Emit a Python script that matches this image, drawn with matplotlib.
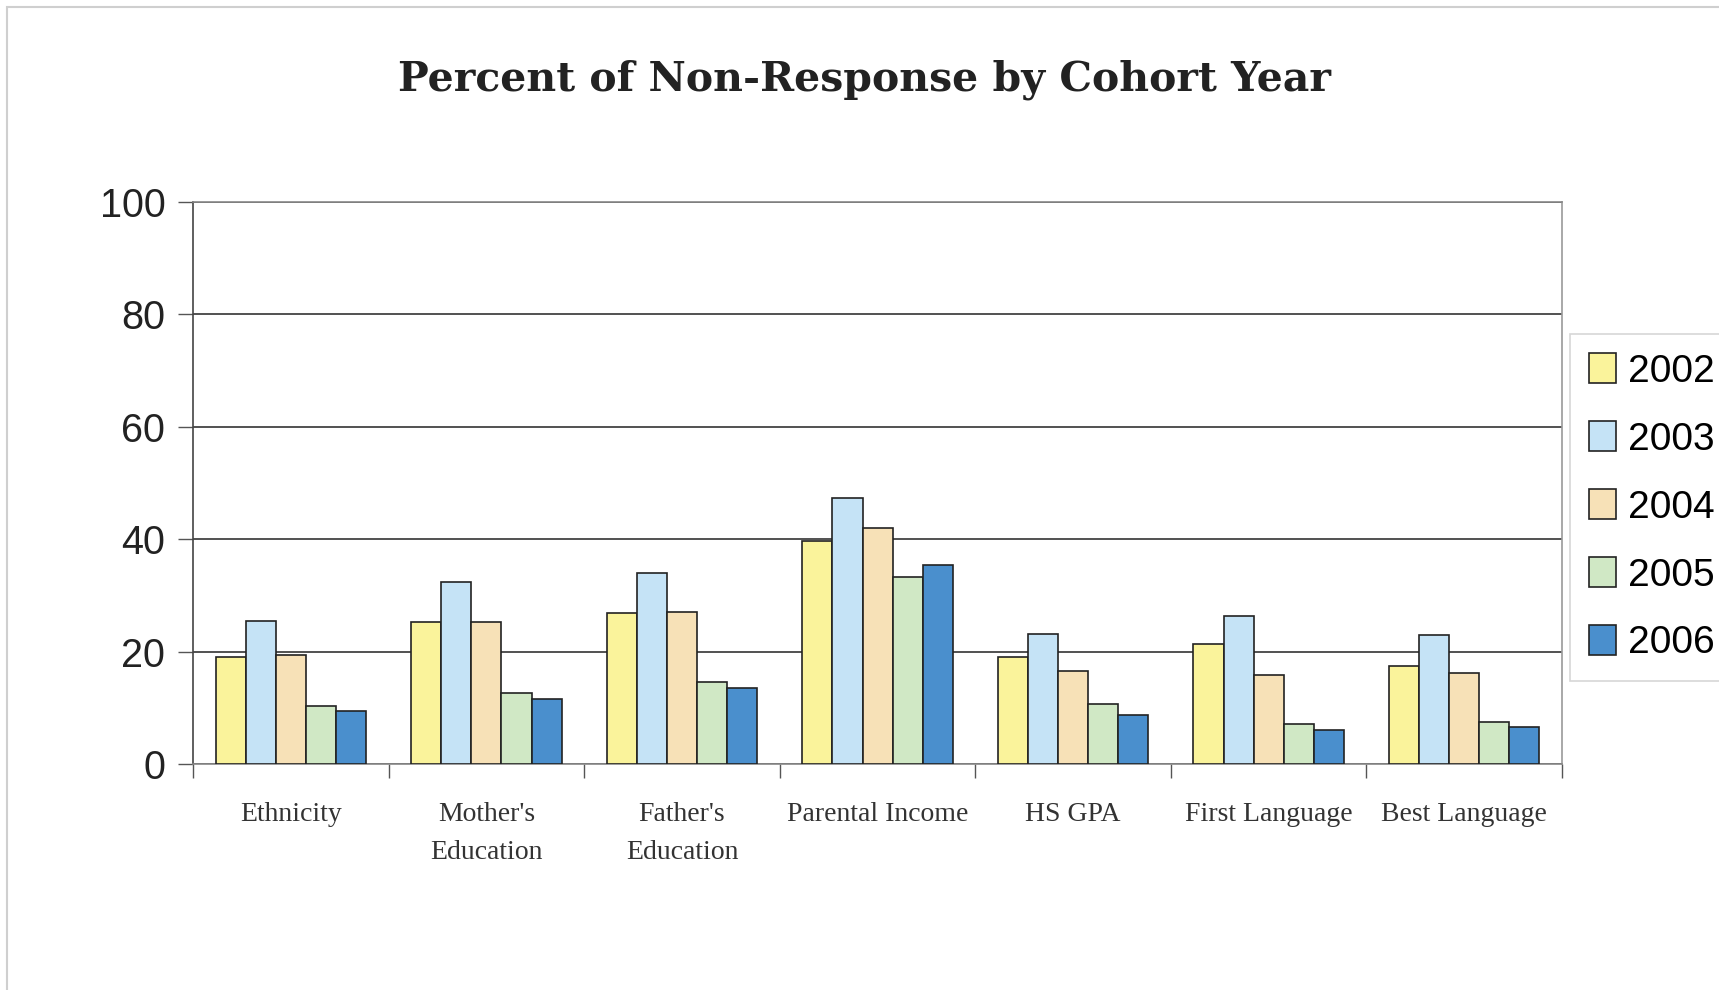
import numpy as np
import matplotlib.pyplot as plt
from matplotlib.patches import Rectangle

categories = ["Ethnicity", "Mother's\nEducation", "Father's\nEducation", "Parental Income",
              "HS GPA", "First Language", "Best Language"]
years = ["2002", "2003", "2004", "2005", "2006"]
v2002 = [19.0, 25.2, 26.8, 39.7, 19.0, 21.3, 17.4]
v2003 = [25.5, 32.3, 33.9, 47.3, 23.2, 26.4, 22.9]
v2004 = [19.4, 25.2, 27.1, 42.0, 16.5, 15.8, 16.1]
v2005 = [10.3, 12.6, 14.5, 33.3, 10.7, 7.1, 7.4]
v2006 = [9.4, 11.6, 13.6, 35.4, 8.7, 6.1, 6.5]
colors = ["#faf39b", "#c5e3f6", "#f7e1b7", "#d0e8c5", "#4a8fcd"]
yticks = [0, 20, 40, 60, 80, 100]

series = [v2002, v2003, v2004, v2005, v2006]
sans = ["Liberation Sans", "DejaVu Sans"]

fig = plt.figure(figsize=(17.19, 9.9), dpi=100)
ax = fig.add_axes([0.1123, 0.2283, 0.7964, 0.5677])

x = np.arange(len(categories))
w = 1 / 6.5
for j, vals in enumerate(series):
    ax.bar(x + (j - 2) * w, vals, w, color=colors[j], edgecolor="#222222",
           linewidth=1.2, label=years[j], zorder=3)

ax.set_xlim(-0.5, len(categories) - 0.5)
ax.set_ylim(0, 100)
ax.set_yticks(yticks)
ax.set_yticklabels([str(t) for t in yticks], family=sans, fontsize=28.5, color="#222222")
ax.yaxis.grid(True, color="#333333", linewidth=1.2, zorder=0)
ax.tick_params(axis="y", length=11, width=1, color="#555555", pad=9)

# category boundary ticks on the x axis
ax.set_xticks(np.arange(-0.5, len(categories), 1.0))
ax.set_xticklabels([])
ax.tick_params(axis="x", length=10, width=1, color="#555555")
for i, c in enumerate(categories):
    ax.text(i, -6.7, c, ha="center", va="top", fontsize=20, family="Liberation Serif",
            color="#333333", linespacing=1.72)

ax.spines["left"].set_color("#444444")
ax.spines["right"].set_color("#999999")
ax.spines["top"].set_color("#888888")
ax.spines["bottom"].set_color("#888888")
for s in ax.spines.values():
    s.set_linewidth(1.2)

fig.text(0.503, 0.919, "Percent of Non-Response by Cohort Year", ha="center", va="center",
         fontsize=29.5, fontweight="bold", family="DejaVu Serif", color="#222222")

leg = ax.legend(loc="upper left", bbox_to_anchor=(0.9133, 0.6626), bbox_transform=fig.transFigure,
                prop={"family": sans, "size": 28}, frameon=True, fancybox=False,
                handlelength=0.68, handleheight=0.8, handletextpad=0.3, labelspacing=0.81,
                borderpad=0.5, borderaxespad=0)
leg.get_frame().set_edgecolor("#cccccc")
leg.get_frame().set_linewidth(1.2)
for h in leg.legend_handles:
    h.set_edgecolor("#222222")
    h.set_linewidth(1.2)

fig.patches.append(Rectangle((0.0041, -0.1), 1.2, 1.0929, transform=fig.transFigure,
                             fill=False, edgecolor="#cfcfcf", linewidth=1.5))

fig.savefig("out.png", dpi=100)
